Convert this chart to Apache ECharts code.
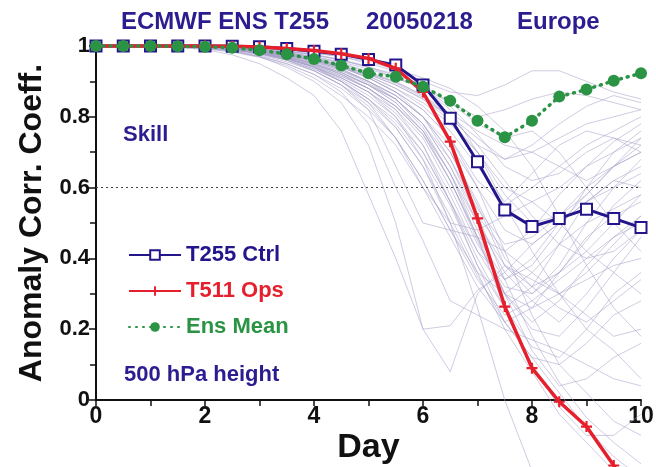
<!DOCTYPE html>
<html>
<head>
<meta charset="utf-8">
<script src="https://cdn.jsdelivr.net/npm/echarts@6/dist/echarts.min.js"></script>
<style>
html, body { margin: 0; padding: 0; background: #fff; }
#chart { width: 656px; height: 467px; }
</style>
</head>
<body>
<div id="chart"></div>
<script>
// ACC of 500 hPa height, ECMWF EPS 20050218, Europe
var chart = echarts.init(document.getElementById('chart'));

var days = [0, 0.5, 1, 1.5, 2, 2.5, 3, 3.5, 4, 4.5, 5, 5.5, 6, 6.5, 7, 7.5, 8, 8.5, 9, 9.5, 10];

var ctrl = [1, 1, 1, 1, 1, 0.999, 0.998, 0.993, 0.985, 0.977, 0.962, 0.946, 0.89, 0.796, 0.673, 0.537, 0.49, 0.513, 0.539, 0.513, 0.487];
var ops = [1, 1, 1, 1, 1, 0.999, 0.997, 0.993, 0.987, 0.978, 0.965, 0.937, 0.87, 0.73, 0.513, 0.264, 0.09, -0.005, -0.075, -0.185, -0.3];
var ensMean = [1, 1, 1, 0.999, 0.998, 0.995, 0.988, 0.977, 0.963, 0.945, 0.923, 0.913, 0.885, 0.845, 0.789, 0.742, 0.789, 0.857, 0.877, 0.902, 0.923];

// the perturbed members (thin lines)
var members = [
    [1, 1, 1, 1, 1, 0.998, 0.995, 0.99, 0.98, 0.97, 0.95, 0.93, 0.9, 0.87, 0.86, 0.89, 0.93, 0.93, 0.9, 0.87, 0.85],
    [1, 1, 1, 1, 0.999, 0.997, 0.993, 0.985, 0.975, 0.96, 0.94, 0.91, 0.88, 0.84, 0.8, 0.82, 0.85, 0.87, 0.86, 0.84, 0.82],
    [1, 1, 1, 1, 0.999, 0.996, 0.99, 0.98, 0.965, 0.945, 0.92, 0.9, 0.86, 0.8, 0.72, 0.68, 0.72, 0.78, 0.83, 0.86, 0.84],
    [1, 1, 1, 1, 0.998, 0.995, 0.988, 0.975, 0.96, 0.94, 0.91, 0.87, 0.82, 0.74, 0.62, 0.55, 0.6, 0.66, 0.72, 0.76, 0.8],
    [1, 1, 1, 0.999, 0.997, 0.993, 0.985, 0.97, 0.95, 0.92, 0.89, 0.85, 0.78, 0.66, 0.52, 0.42, 0.48, 0.58, 0.66, 0.73, 0.78],
    [1, 1, 1, 1, 0.998, 0.994, 0.987, 0.976, 0.96, 0.935, 0.9, 0.86, 0.8, 0.7, 0.55, 0.38, 0.3, 0.36, 0.45, 0.55, 0.62],
    [1, 1, 1, 0.999, 0.997, 0.992, 0.982, 0.966, 0.945, 0.915, 0.88, 0.83, 0.75, 0.62, 0.45, 0.3, 0.22, 0.28, 0.38, 0.46, 0.52],
    [1, 1, 1, 1, 0.998, 0.995, 0.99, 0.982, 0.97, 0.955, 0.935, 0.91, 0.88, 0.83, 0.75, 0.66, 0.62, 0.64, 0.7, 0.74, 0.72],
    [1, 1, 1, 0.999, 0.996, 0.99, 0.98, 0.964, 0.94, 0.9, 0.85, 0.79, 0.7, 0.56, 0.4, 0.26, 0.15, 0.12, 0.2, 0.3, 0.36],
    [1, 1, 1, 0.999, 0.997, 0.992, 0.984, 0.97, 0.95, 0.925, 0.89, 0.85, 0.78, 0.68, 0.52, 0.34, 0.18, 0.05, -0.05, -0.12, -0.18],
    [1, 1, 0.999, 0.998, 0.995, 0.99, 0.98, 0.962, 0.935, 0.9, 0.85, 0.78, 0.68, 0.55, 0.38, 0.22, 0.12, 0.1, 0.16, 0.24, 0.28],
    [1, 1, 1, 0.999, 0.996, 0.99, 0.978, 0.96, 0.93, 0.89, 0.83, 0.74, 0.62, 0.48, 0.34, 0.24, 0.28, 0.34, 0.4, 0.46, 0.5],
    [1, 1, 1, 0.999, 0.997, 0.993, 0.985, 0.972, 0.955, 0.93, 0.9, 0.86, 0.8, 0.72, 0.6, 0.48, 0.44, 0.5, 0.56, 0.6, 0.64],
    [1, 1, 1, 1, 0.998, 0.995, 0.99, 0.98, 0.965, 0.945, 0.92, 0.89, 0.85, 0.79, 0.7, 0.58, 0.5, 0.52, 0.58, 0.66, 0.7],
    [1, 1, 1, 0.999, 0.996, 0.99, 0.98, 0.965, 0.94, 0.91, 0.87, 0.82, 0.74, 0.6, 0.44, 0.32, 0.3, 0.38, 0.5, 0.6, 0.68],
    [1, 1, 0.999, 0.997, 0.993, 0.985, 0.97, 0.95, 0.92, 0.88, 0.82, 0.74, 0.62, 0.48, 0.36, 0.3, 0.36, 0.44, 0.5, 0.54, 0.58],
    [1, 1, 1, 0.999, 0.997, 0.993, 0.986, 0.975, 0.96, 0.94, 0.91, 0.87, 0.82, 0.74, 0.6, 0.42, 0.24, 0.1, 0.02, -0.06, -0.1],
    [1, 1, 1, 0.999, 0.996, 0.99, 0.98, 0.966, 0.945, 0.915, 0.88, 0.83, 0.76, 0.64, 0.48, 0.3, 0.14, 0.04, 0.06, 0.12, 0.16],
    [1, 1, 0.999, 0.998, 0.994, 0.987, 0.975, 0.955, 0.93, 0.89, 0.84, 0.77, 0.66, 0.52, 0.36, 0.2, 0.08, -0.04, -0.12, -0.2, -0.26],
    [1, 1, 1, 0.999, 0.997, 0.993, 0.987, 0.977, 0.962, 0.94, 0.915, 0.88, 0.84, 0.78, 0.7, 0.6, 0.56, 0.6, 0.66, 0.7, 0.74],
    [1, 1, 1, 1, 0.998, 0.995, 0.99, 0.98, 0.965, 0.945, 0.92, 0.89, 0.85, 0.8, 0.74, 0.68, 0.7, 0.74, 0.78, 0.8, 0.82],
    [1, 1, 1, 0.999, 0.997, 0.992, 0.983, 0.968, 0.948, 0.92, 0.88, 0.82, 0.72, 0.56, 0.38, 0.26, 0.32, 0.44, 0.56, 0.62, 0.6],
    [1, 1, 1, 0.999, 0.996, 0.99, 0.98, 0.965, 0.942, 0.91, 0.87, 0.81, 0.72, 0.58, 0.42, 0.3, 0.26, 0.3, 0.36, 0.44, 0.52],
    [1, 1, 0.999, 0.997, 0.992, 0.983, 0.968, 0.945, 0.91, 0.86, 0.8, 0.72, 0.6, 0.46, 0.32, 0.22, 0.26, 0.36, 0.46, 0.52, 0.56],
    [1, 1, 1, 0.999, 0.997, 0.992, 0.983, 0.97, 0.95, 0.925, 0.89, 0.84, 0.76, 0.62, 0.46, 0.34, 0.38, 0.48, 0.6, 0.7, 0.76],
    [1, 1, 1, 0.999, 0.996, 0.99, 0.978, 0.96, 0.935, 0.9, 0.85, 0.77, 0.66, 0.5, 0.35, 0.22, 0.12, 0.02, -0.08, -0.16, -0.22],
    [1, 1, 1, 1, 0.998, 0.994, 0.988, 0.978, 0.962, 0.94, 0.91, 0.87, 0.8, 0.68, 0.54, 0.44, 0.46, 0.52, 0.6, 0.66, 0.7],
    [1, 1, 1, 0.999, 0.997, 0.993, 0.986, 0.975, 0.958, 0.935, 0.9, 0.86, 0.8, 0.7, 0.56, 0.4, 0.32, 0.26, 0.22, 0.28, 0.34],
    [1, 1, 1, 0.999, 0.996, 0.99, 0.98, 0.964, 0.94, 0.905, 0.86, 0.8, 0.7, 0.56, 0.42, 0.34, 0.4, 0.5, 0.58, 0.66, 0.74],
    [1, 1, 1, 0.999, 0.997, 0.993, 0.985, 0.972, 0.952, 0.925, 0.89, 0.84, 0.76, 0.64, 0.5, 0.38, 0.32, 0.36, 0.42, 0.5, 0.58],
    [1, 1, 0.999, 0.996, 0.99, 0.975, 0.95, 0.91, 0.86, 0.76, 0.58, 0.4, 0.2, 0.08, 0.3, 0.38, 0.34, 0.3, 0.34, 0.38, 0.4],
    [1, 1, 1, 0.998, 0.994, 0.985, 0.97, 0.94, 0.9, 0.84, 0.72, 0.5, 0.2, 0.21, 0.31, 0.36, 0.44, 0.5, 0.56, 0.62, 0.66],
    [1, 1, 1, 0.998, 0.995, 0.987, 0.972, 0.95, 0.92, 0.87, 0.78, 0.6, 0.45, 0.28, 0.24, 0.2, 0.17, 0.14, 0.1, 0.06, 0.04],
    [1, 1, 1, 0.999, 0.996, 0.99, 0.978, 0.96, 0.93, 0.89, 0.82, 0.66, 0.5, 0.48, 0.46, 0.42, 0.36, 0.3, 0.24, 0.18, 0.2],
    [1, 1, 1, 0.999, 0.997, 0.992, 0.982, 0.965, 0.94, 0.9, 0.84, 0.74, 0.6, 0.5, 0.48, 0.52, 0.56, 0.5, 0.42, 0.36, 0.3],
    [1, 1, 1, 1, 0.999, 0.997, 0.994, 0.988, 0.98, 0.97, 0.955, 0.935, 0.91, 0.88, 0.83, 0.76, 0.66, 0.52, 0.38, 0.26, 0.18],
    [1, 1, 1, 1, 0.998, 0.996, 0.992, 0.985, 0.975, 0.96, 0.94, 0.92, 0.89, 0.84, 0.78, 0.74, 0.76, 0.7, 0.6, 0.5, 0.42],
    [1, 1, 1, 1, 0.999, 0.997, 0.993, 0.986, 0.976, 0.962, 0.942, 0.915, 0.88, 0.82, 0.7, 0.55, 0.42, 0.3, 0.2, 0.14, 0.06],
    [1, 1, 1, 0.999, 0.997, 0.993, 0.986, 0.975, 0.958, 0.934, 0.9, 0.85, 0.77, 0.64, 0.46, 0.26, 0.1, -0.02, -0.1, -0.1, -0.04],
    [1, 1, 1, 0.999, 0.996, 0.99, 0.98, 0.965, 0.942, 0.91, 0.87, 0.8, 0.68, 0.5, 0.26, 0.0, -0.2, -0.32, -0.4, -0.46, -0.5],
    [1, 1, 1, 1, 0.998, 0.995, 0.99, 0.981, 0.968, 0.95, 0.925, 0.895, 0.855, 0.8, 0.72, 0.62, 0.52, 0.44, 0.4, 0.42, 0.48],
    [1, 1, 1, 0.999, 0.997, 0.994, 0.988, 0.978, 0.963, 0.943, 0.915, 0.88, 0.83, 0.76, 0.66, 0.56, 0.64, 0.72, 0.76, 0.74, 0.7],
    [1, 1, 1, 0.999, 0.996, 0.991, 0.982, 0.968, 0.948, 0.92, 0.88, 0.83, 0.75, 0.62, 0.46, 0.3, 0.2, 0.18, 0.26, 0.36, 0.46],
    [1, 1, 1, 0.999, 0.997, 0.993, 0.986, 0.974, 0.956, 0.93, 0.895, 0.85, 0.78, 0.66, 0.5, 0.36, 0.28, 0.22, 0.3, 0.4, 0.48],
    [1, 1, 1, 1, 0.998, 0.995, 0.99, 0.982, 0.97, 0.952, 0.928, 0.898, 0.86, 0.81, 0.76, 0.72, 0.7, 0.66, 0.62, 0.66, 0.72]
];

var blue = '#23168c';
var red = '#e5202c';
var green = '#2a9444';
var ink = '#2b1d8f';
var font = '"Liberation Sans", Arial, sans-serif';

function pairs(vals) {
    return days.map(function (d, i) { return [d, vals[i]]; });
}

var series = members.map(function (m) {
    return {
        type: 'line',
        data: pairs(m),
        symbol: 'none',
        silent: true,
        clip: false,
        z: 1,
        lineStyle: { color: 'rgba(168,160,200,0.55)', width: 1 }
    };
});

series.push({
    name: 'T255 Ctrl',
    type: 'line',
    data: pairs(ctrl),
    clip: false,
    z: 3,
    symbol: 'emptyRect',
    symbolSize: 11,
    lineStyle: { color: blue, width: 3 },
    itemStyle: { color: blue, borderWidth: 2 },
    markLine: {
        silent: true,
        symbol: 'none',
        label: { show: false },
        lineStyle: { color: '#444', type: [2, 3], width: 1 },
        data: [{ yAxis: 0.6 }]
    }
});

series.push({
    name: 'T511 Ops',
    type: 'line',
    data: pairs(ops),
    clip: false,
    z: 4,
    symbol: 'path://M4,0h2v4h4v2h-4v4h-2v-4h-4v-2h4z',
    symbolSize: 11,
    lineStyle: { color: red, width: 3.5 },
    itemStyle: { color: red }
});

series.push({
    name: 'Ens Mean',
    type: 'line',
    data: pairs(ensMean),
    clip: false,
    z: 5,
    symbol: 'circle',
    symbolSize: 12,
    lineStyle: { color: green, width: 3.5, type: [1, 6], cap: 'round' },
    itemStyle: { color: green }
});

var axisColor = '#111';

var option = {
    animation: false,
    grid: { left: 96, right: 15, top: 46, bottom: 67, outerBoundsMode: 'none' },
    legend: {
        orient: 'vertical',
        left: 123,
        top: 238,
        itemWidth: 52,
        itemHeight: 12,
        itemGap: 12,
        selectedMode: false,
        textStyle: { fontSize: 22, fontWeight: 'bold', fontFamily: font, lineHeight: 24 },
        data: [
            { name: 'T255 Ctrl', textStyle: { color: blue } },
            { name: 'T511 Ops', textStyle: { color: red } },
            { name: 'Ens Mean', textStyle: { color: green } }
        ]
    },
    xAxis: {
        type: 'value',
        min: 0,
        max: 10,
        interval: 2,
        name: 'Day',
        nameLocation: 'middle',
        nameGap: 31,
        nameMoveOverlap: false,
        nameTextStyle: { fontSize: 34, fontWeight: 'bold', color: axisColor, fontFamily: font },
        axisLine: { show: true, onZero: false, lineStyle: { color: axisColor, width: 2 } },
        axisTick: { show: true, length: 6, lineStyle: { color: axisColor, width: 1.5 } },
        minorTick: { show: true, splitNumber: 2, length: 6, lineStyle: { color: axisColor, width: 1.5 } },
        axisLabel: { fontSize: 23, fontWeight: 'bold', color: axisColor, fontFamily: font, margin: 5 },
        splitLine: { show: false }
    },
    yAxis: {
        type: 'value',
        min: 0,
        max: 1,
        interval: 0.2,
        name: 'Anomaly Corr. Coeff.',
        nameLocation: 'middle',
        nameGap: 48,
        nameMoveOverlap: false,
        nameTextStyle: { fontSize: 32, fontWeight: 'bold', color: axisColor, fontFamily: font },
        axisLine: { show: true, onZero: false, lineStyle: { color: axisColor, width: 2 } },
        axisTick: { show: true, length: 7, lineStyle: { color: axisColor, width: 1.5 } },
        minorTick: { show: true, splitNumber: 2, length: 6, lineStyle: { color: axisColor, width: 1.5 } },
        axisLabel: { fontSize: 22, fontWeight: 'bold', color: axisColor, fontFamily: font, margin: 6 },
        splitLine: { show: false }
    },
    graphic: [
        { type: 'text', x: 121, y: 22, style: { text: 'ECMWF ENS T255', fontSize: 24, fontWeight: 'bold', fontFamily: font, fill: ink, verticalAlign: 'middle' } },
        { type: 'text', x: 366, y: 22, style: { text: '20050218', fontSize: 24, fontWeight: 'bold', fontFamily: font, fill: ink, verticalAlign: 'middle' } },
        { type: 'text', x: 517, y: 22, style: { text: 'Europe', fontSize: 24, fontWeight: 'bold', fontFamily: font, fill: ink, verticalAlign: 'middle' } },
        { type: 'text', x: 123, y: 135, style: { text: 'Skill', fontSize: 22, fontWeight: 'bold', fontFamily: font, fill: ink, verticalAlign: 'middle' } },
        { type: 'text', x: 124, y: 375, style: { text: '500 hPa height', fontSize: 22, fontWeight: 'bold', fontFamily: font, fill: ink, verticalAlign: 'middle' } }
    ],
    series: series
};

chart.setOption(option);
</script>
</body>
</html>
